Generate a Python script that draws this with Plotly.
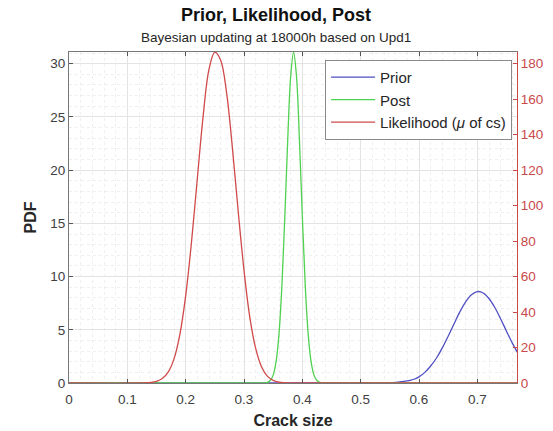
import plotly.graph_objects as go

# Crack size grid points and densities for each curve
prior_x = [0.0, 0.50, 0.55, 0.56, 0.57, 0.58, 0.59, 0.60, 0.61, 0.62, 0.63, 0.64, 0.65,
           0.66, 0.67, 0.68, 0.69, 0.70, 0.71, 0.72, 0.73, 0.74, 0.75, 0.76, 0.77]
prior_pdf = [0.0, 0.0, 0.03, 0.06, 0.12, 0.2, 0.33, 0.58, 1.0, 1.6, 2.35, 3.3, 4.4,
             5.55, 6.68, 7.63, 8.3, 8.59, 8.46, 7.94, 7.09, 6.02, 4.87, 3.75, 2.75]

post_x = [0.0, 0.33, 0.335, 0.34, 0.345, 0.35, 0.355, 0.36, 0.365, 0.37, 0.375, 0.38,
          0.385, 0.39, 0.395, 0.40, 0.405, 0.41, 0.415, 0.42, 0.425, 0.43, 0.435, 0.44, 0.77]
post_pdf = [0.0, 0.0, 0.01, 0.06, 0.24, 0.74, 2.0, 4.62, 9.17, 15.65, 22.9, 28.8,
            31.1, 28.8, 22.9, 15.65, 9.17, 4.62, 2.0, 0.74, 0.24, 0.06, 0.01, 0.0, 0.0]

like_x = [0.0, 0.12, 0.13, 0.14, 0.15, 0.16, 0.17, 0.18, 0.19, 0.20, 0.21, 0.22, 0.23,
          0.24, 0.25, 0.26, 0.27, 0.28, 0.29, 0.30, 0.31, 0.32, 0.33, 0.34, 0.35, 0.36,
          0.37, 0.38, 0.77]
like_val = [0.0, 0.0, 0.1, 0.3, 0.9, 2.5, 6.1, 13.6, 27.3, 49.1, 79.4, 115.3, 150.6,
            176.8, 186.5, 182.0, 164.0, 133.0, 97.0, 63.5, 37.0, 19.5, 9.2, 3.9, 1.5,
            0.5, 0.15, 0.0, 0.0]

x_ticks = [0, 0.1, 0.2, 0.3, 0.4, 0.5, 0.6, 0.7]
y_left_ticks = [0, 5, 10, 15, 20, 25, 30]
y_right_ticks = [0, 20, 40, 60, 80, 100, 120, 140, 160, 180]

FONT = "Arial, Liberation Sans, sans-serif"
TXT = "#262626"
RED = "#c94a4a"
GRID = "#e3e3e3"
MINOR = "#efefef"

fig = go.Figure()
fig.add_trace(go.Scatter(x=prior_x, y=prior_pdf, mode="lines", name="Prior",
                         line=dict(color="#4f4fc4", width=1.3, shape="spline")))
fig.add_trace(go.Scatter(x=post_x, y=post_pdf, mode="lines", name="Post",
                         line=dict(color="#4fd24f", width=1.3, shape="spline")))
fig.add_trace(go.Scatter(x=like_x, y=like_val, mode="lines", name="Likelihood (<i>μ</i> of cs)",
                         yaxis="y2", line=dict(color="#d04a4a", width=1.3, shape="spline")))

fig.update_layout(
    width=553, height=431,
    margin=dict(l=69, r=36, t=52, b=48),
    paper_bgcolor="white", plot_bgcolor="white",
    font=dict(family=FONT, size=13, color=TXT),
    showlegend=True,
    legend=dict(x=0.989, y=0.976, xanchor="right", yanchor="top",
                bgcolor="white", bordercolor="#8a8a8a", borderwidth=1,
                itemwidth=44, font=dict(size=15, color=TXT), tracegroupgap=0),
    xaxis=dict(range=[0, 0.768], tickvals=x_ticks, ticktext=[str(v) for v in x_ticks],
               ticks="inside", ticklen=4, tickcolor="#555", mirror="ticks",
               showline=True, linecolor="#777", linewidth=1, automargin=False,
               showgrid=True, gridcolor=GRID, zeroline=False,
               minor=dict(dtick=0.02, showgrid=True, gridcolor=MINOR, griddash="dot", ticks=""),
               tickfont=dict(size=13.5, color="#404040"), ticklabelstandoff=4,
               title=dict(text="<b>Crack size</b>", font=dict(size=16, color=TXT), standoff=8)),
    yaxis=dict(range=[0, 31.1], tickvals=y_left_ticks, ticks="inside", ticklen=4,
               tickcolor="#555", showline=True, linecolor="#777", linewidth=1,
               automargin=False,
               showgrid=True, gridcolor=GRID, zeroline=False,
               minor=dict(dtick=1, showgrid=True, gridcolor=MINOR, griddash="dot", ticks=""),
               tickfont=dict(size=13.5, color="#404040"),
               title=dict(text="<b>PDF</b>", font=dict(size=16, color=TXT), standoff=9)),
    yaxis2=dict(range=[0, 186.6], tickvals=y_right_ticks, overlaying="y", side="right",
                ticks="inside", ticklen=4, tickcolor=RED, showline=True, linecolor=RED,
                linewidth=1, showgrid=False, zeroline=False, automargin=False,
                tickfont=dict(size=13.5, color=RED)),
    annotations=[
        dict(text="<b>Prior, Likelihood, Post</b>", xref="paper", yref="paper",
             x=0.463, y=(383 - 15) / 331, xanchor="center", yanchor="middle",
             showarrow=False, font=dict(size=18, color="#111")),
        dict(text="Bayesian updating at 18000h based on Upd1", xref="paper", yref="paper",
             x=0.463, y=(383 - 38) / 331, xanchor="center", yanchor="middle",
             showarrow=False, font=dict(size=13.5, color=TXT)),
    ],
)

fig.write_html("out.html")
